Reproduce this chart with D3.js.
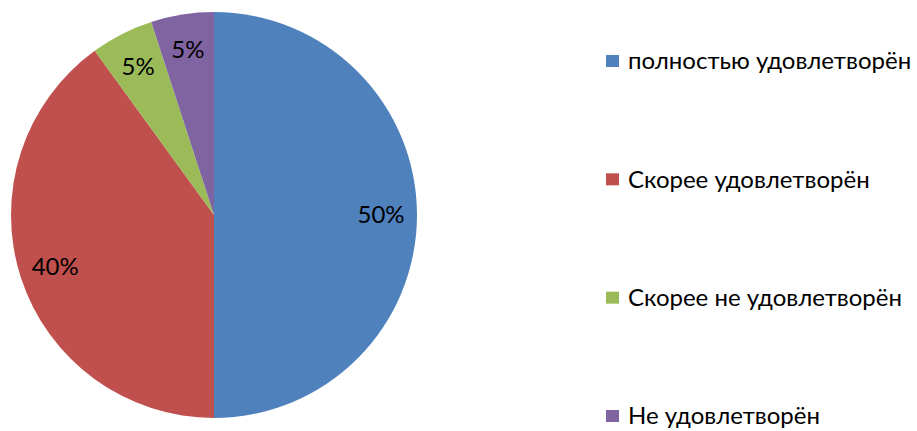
<!DOCTYPE html>
<html><head><meta charset="utf-8">
<script src="https://cdn.jsdelivr.net/npm/d3@7"></script>
<style>body{margin:0;background:#fff}svg{display:block}</style>
</head><body>
<svg id="c" width="917" height="431"></svg>
<script>
const categories = ["полностью удовлетворён","Скорее удовлетворён","Скорее не удовлетворён","Не удовлетворён"];
const values = [50, 40, 5, 5];
const labels = ["50%","40%","5%","5%"];
const colors = ["#4F81BD","#C0504D","#9BBB59","#8064A2"];

const svg = d3.select("#c");
const cx = 214, cy = 215, r = 203;
const font = "Lato, 'Open Sans', sans-serif";
const pie = d3.pie().sort(null).value(d => d)(values);
const arc = d3.arc().innerRadius(0).outerRadius(r);
const labelArc = d3.arc().innerRadius(167).outerRadius(167);
const g = svg.append("g").attr("transform", `translate(${cx},${cy})`);
g.selectAll("path").data(pie).join("path")
  .attr("d", arc).attr("fill", (d,i) => colors[i]);
g.selectAll("text").data(pie).join("text")
  .attr("transform", d => `translate(${labelArc.centroid(d)})`)
  .attr("text-anchor","middle").attr("dy","0.35em")
  .attr("font-family", font).attr("font-size", 24).attr("fill","#000")
  .text((d,i) => labels[i]);

const ly = d3.scalePoint().domain(categories).range([61, 416]);
const lg = svg.append("g");
const items = lg.selectAll("g").data(categories).join("g")
  .attr("transform", d => `translate(606,${ly(d)})`);
items.append("rect").attr("x",0).attr("y",-6).attr("width",13).attr("height",12)
  .attr("fill", (d,i) => colors[i]);
items.append("text").attr("x",22).attr("dy","0.35em")
  .attr("font-family", font).attr("font-size", 24).attr("fill","#000")
  .text(d => d);
</script>
</body></html>
